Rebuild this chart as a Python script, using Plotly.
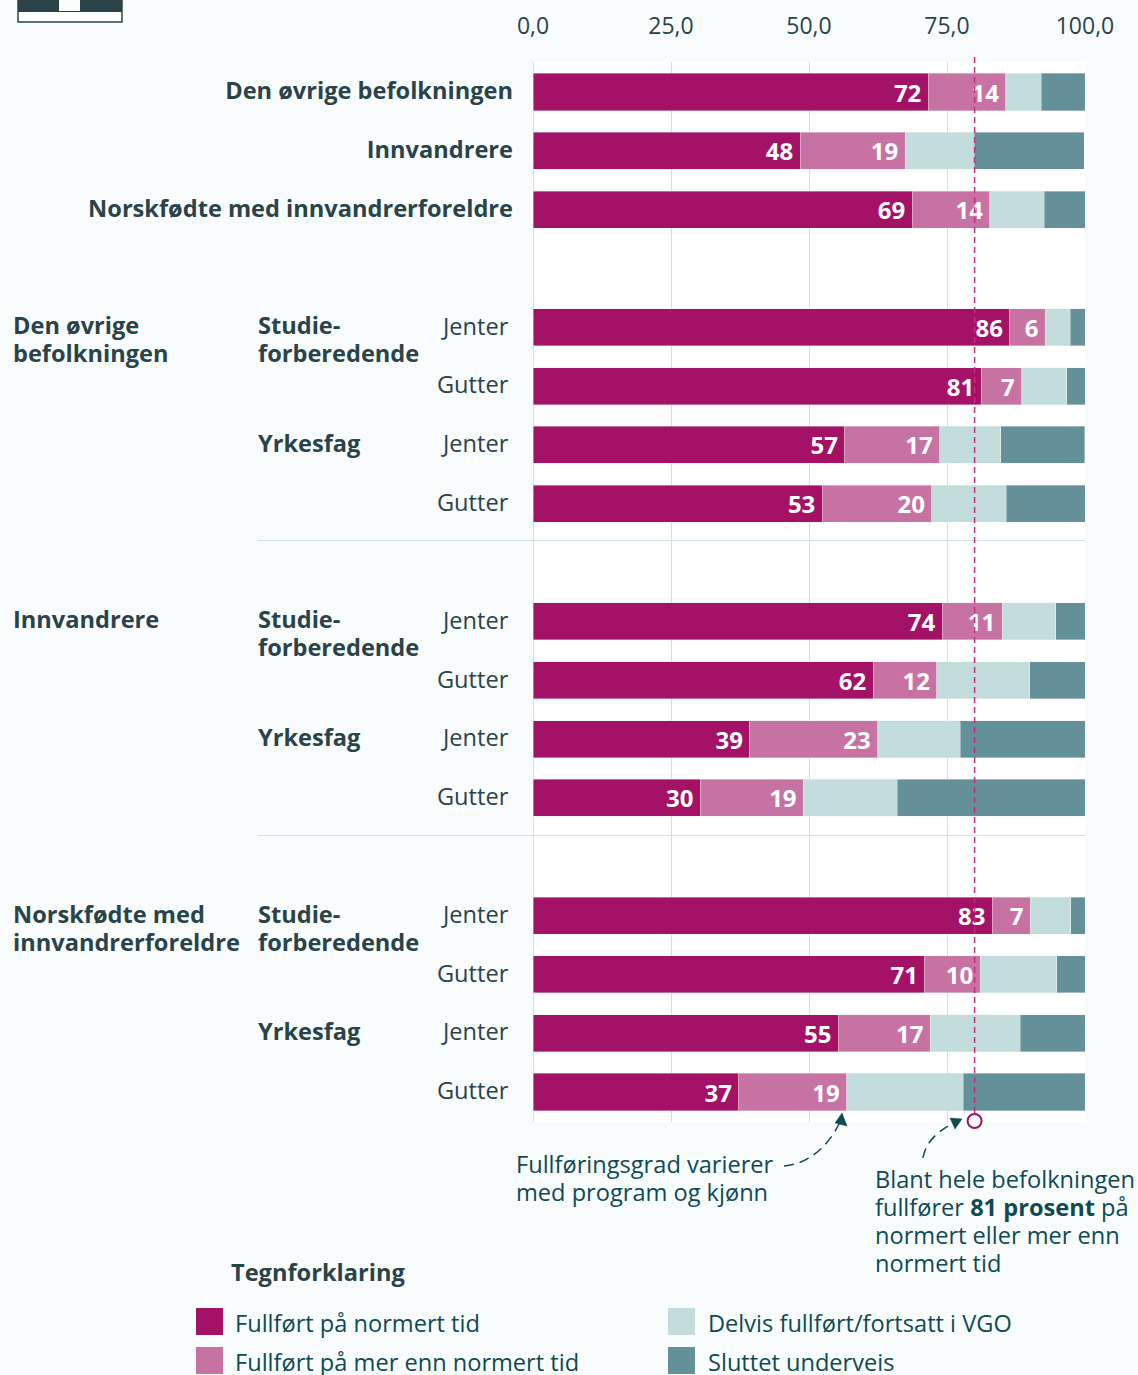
import plotly.graph_objects as go

W, H = 1138, 1375
L, R, T, B = 533, 1085, 62, 1122

BG = "#F8FCFD"
TXT = "#2A4349"
NOTE = "#0F4A52"
MAGENTA = "#A31267"
PINK = "#C673A3"
LIGHT = "#C3DCDC"
TEAL = "#639099"
FS = 23.6
PAD = '<span style="font-size:15px">\u00a0</span>'
GAP = '<span style="font-size:18px">\u00a0</span>'

rows = ["A0", "B0", "C0", "gap1",
        "A1", "A2", "A3", "A4", "gap2",
        "B1", "B2", "B3", "B4", "gap3",
        "C1", "C2", "C3", "C4"]
bar_rows = [r for r in rows if not r.startswith("gap")]
row_names = ["<b>Den øvrige befolkningen</b>", "<b>Innvandrere</b>", "<b>Norskfødte med innvandrerforeldre</b>",
             "Jenter", "Gutter", "Jenter", "Gutter",
             "Jenter", "Gutter", "Jenter", "Gutter",
             "Jenter", "Gutter", "Jenter", "Gutter"]
row_labels = [s if s.startswith("<b>") else s + GAP for s in row_names]

normert = [71.6, 48.4, 68.7, 86.4, 81.2, 56.5, 52.4, 74.1, 61.6, 39.3, 30.3, 83.2, 71.0, 55.3, 37.3]
mer_enn = [14.05, 19.0, 14.05, 6.4, 7.3, 17.15, 19.85, 10.9, 11.55, 23.15, 18.7, 6.9, 10.0, 16.7, 19.5]
delvis = [6.4, 12.5, 9.9, 4.5, 8.2, 11.05, 13.45, 9.7, 16.85, 14.95, 17.0, 7.3, 13.9, 16.3, 21.1]
sluttet = [7.95, 20.0, 7.75, 2.7, 3.3, 15.25, 14.3, 5.3, 10.0, 22.6, 34.0, 2.7, 5.1, 11.7, 22.1]
normert_lbl = [72, 48, 69, 86, 81, 57, 53, 74, 62, 39, 30, 83, 71, 55, 37]
mer_enn_lbl = [14, 19, 14, 6, 7, 17, 20, 11, 12, 23, 19, 7, 10, 17, 19]
x_ticks = [0, 25, 50, 75, 100]
total_rate = 80

names = ["Fullført på normert tid", "Fullført på mer enn normert tid",
         "Delvis fullført/fortsatt i VGO", "Sluttet underveis"]


def px(x):
    return (x - L) / (R - L)


def py(y):
    return (B - y) / (B - T)


fig = go.Figure()
series = [(normert, MAGENTA, normert_lbl), (mer_enn, PINK, mer_enn_lbl),
          (delvis, LIGHT, None), (sluttet, TEAL, None)]
for name, (vals, col, lbl) in zip(names, series):
    fig.add_trace(go.Bar(
        y=bar_rows, x=vals, name=name, orientation="h", width=0.63,
        marker=dict(color=col, line=dict(color="rgba(235,240,242,0.7)", width=0.6)),
        text=[f"{v}{PAD}" for v in lbl] if lbl else None,
        textposition="inside" if lbl else None, insidetextanchor="end",
        textangle=0, constraintext="none", cliponaxis=False,
        textfont=dict(family="Open Sans", size=24, color="white", weight=700),
        showlegend=False, hoverinfo="x+y+name"))

ann = []


def text(s, x, y, size=FS, color=TXT, yref="paper", yshift=0):
    ann.append(dict(text=s, x=px(x - 2), y=py(y) if yref == "paper" else y, xref="paper", yref=yref,
                    xanchor="left", yanchor="middle", showarrow=False, yshift=yshift,
                    align="left", font=dict(family="Open Sans", size=size, color=color)))


groups = [("A1", ["Den øvrige", "befolkningen"]), ("B1", ["Innvandrere"]),
          ("C1", ["Norskfødte med", "innvandrerforeldre"])]
for row, lines in groups:
    for i, s in enumerate(lines):
        text(f"<b>{s}</b>", 12.5, row, yref="y", yshift=2 - 28 * i)
for p in "ABC":
    text("<b>Studie-</b>", 258, p + "1", yref="y", yshift=2)
    text("<b>forberedende</b>", 258, p + "1", yref="y", yshift=-26)
    text("<b>Yrkesfag</b>", 258, p + "3", yref="y", yshift=2)

text("Fullføringsgrad varierer", 516, 1164, color=NOTE)
text("med program og kjønn", 516, 1192, color=NOTE)
text("Blant hele befolkningen", 875, 1178.5, color=NOTE)
text("fullfører <b>81 prosent</b> på", 875, 1206.5, color=NOTE)
text("normert eller mer enn", 875, 1234.5, color=NOTE)
text("normert tid", 875, 1262.5, color=NOTE)
text("<b>Tegnforklaring</b>", 231, 1272)

shapes = []


def rect(x0, y0, x1, y1, fill, line=None, lw=0):
    shapes.append(dict(type="rect", xref="paper", yref="paper", x0=px(x0), x1=px(x1), y0=py(y0), y1=py(y1),
                       fillcolor=fill, line=dict(color=line or fill, width=lw), layer="above"))


def path(d_pts, fill=None, lw=1.5, dash=None):
    d = ""
    for c, pts in d_pts:
        d += c + " ".join(f"{px(a):.5f},{py(b):.5f}" for a, b in pts) + " "
    shapes.append(dict(type="path", xref="paper", yref="paper", path=d + ("Z" if fill else ""),
                       fillcolor=fill if fill else "rgba(0,0,0,0)",
                       line=dict(color=NOTE, width=0.5 if fill else lw, dash=dash), layer="above"))


# legend
leg = [(196, 1308, MAGENTA, names[0], 235), (196, 1347, PINK, names[1], 235),
       (668, 1308, LIGHT, names[2], 708), (668, 1347, TEAL, names[3], 708)]
for x, y, col, s, tx in leg:
    rect(x, y, x + 27, y + 27, col)
    text(s, tx, y + 15, color=NOTE)

# separators
for y in (540.5, 835.5):
    shapes.append(dict(type="line", xref="paper", yref="paper", x0=px(258), x1=1, y0=py(y), y1=py(y),
                       line=dict(color="#CFE3E3", width=1), layer="above"))

# cropped pictogram in the corner
rect(18, 0, 122, 22, "white", "#2A4349", 1.5)
rect(18, 0, 122, 12, "#2A4349")
rect(59, 0, 80, 11, BG)

# reference line and its ring
shapes.append(dict(type="line", xref="x", yref="paper", x0=total_rate, x1=total_rate, y0=py(1113), y1=py(56),
                   line=dict(color="#C0307F", width=1.5, dash="6px,4px"), layer="above"))
shapes.append(dict(type="circle", xref="x", yref="paper", xsizemode="pixel", xanchor=total_rate,
                   x0=-7, x1=7, ysizemode="pixel", yanchor=py(1121), y0=-7, y1=7,
                   fillcolor="white", line=dict(color=MAGENTA, width=2), layer="above"))

# annotation arrows
path([("M", [(784, 1166)]), ("C", [(808, 1164), (828, 1147), (840, 1122)])], dash="10px,6px")
path([("M", [(842, 1113)]), ("L", [(835, 1123)]), ("L", [(847, 1126)])], fill=NOTE)
path([("M", [(923, 1158)]), ("C", [(925, 1144), (936, 1132), (952, 1124)])], dash="10px,6px")
path([("M", [(962, 1119)]), ("L", [(950, 1118)]), ("L", [(955, 1129)])], fill=NOTE)

fig.update_layout(
    width=W, height=H, margin=dict(l=L, r=W - R, t=T, b=H - B, autoexpand=False),
    paper_bgcolor=BG, plot_bgcolor="white", barmode="stack", separators=",.",
    showlegend=False, annotations=ann, shapes=shapes,
    font=dict(family="Open Sans", size=FS, color=TXT),
    xaxis=dict(range=[0, 100], side="top", tickvals=x_ticks, tickformat=".1f", showgrid=True,
               gridcolor="#CDE0E1", gridwidth=1, zeroline=True, zerolinecolor="#D8E0E2", zerolinewidth=1,
               ticks="", showline=False, ticklabelstandoff=22, tickfont=dict(size=23, color=TXT)),
    yaxis=dict(type="category", categoryorder="array", categoryarray=rows,
               range=[17.51, -0.51], tickmode="array", tickvals=bar_rows, ticktext=row_labels,
               ticks="", showgrid=False, zeroline=False, showline=False, ticklabelshift=1,
               ticklabelstandoff=19, tickfont=dict(size=FS, color=TXT)),
)

fig.write_html("out.html", config={"displayModeBar": False},
               post_script="document.body.style.margin='0';document.body.style.background='%s';" % BG)
